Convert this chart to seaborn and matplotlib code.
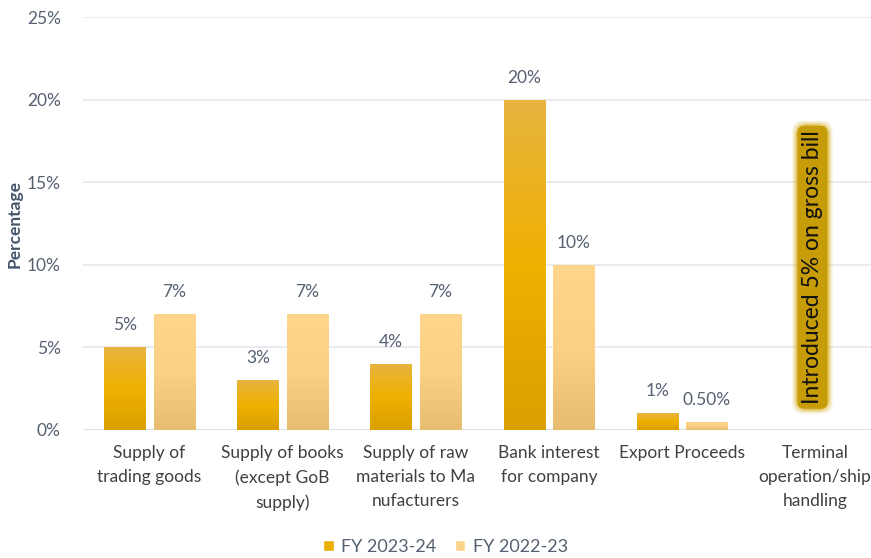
import numpy as np
import pandas as pd
import matplotlib
matplotlib.use("Agg")
import matplotlib.pyplot as plt
import seaborn as sns
from matplotlib.colors import LinearSegmentedColormap

categories = ["Supply of\ntrading goods", "Supply of books\n(except GoB\nsupply)",
              "Supply of raw\nmaterials to Ma\nnufacturers", "Bank interest\nfor company",
              "Export Proceeds", "Terminal\noperation/ship\nhandling"]
fy_2324 = [5, 3, 4, 20, 1, np.nan]
fy_2223 = [7, 7, 7, 10, 0.5, np.nan]
labels_2324 = ["5%", "3%", "4%", "20%", "1%", ""]
labels_2223 = ["7%", "7%", "7%", "10%", "0.50%", ""]
series = ["FY 2023-24", "FY 2022-23"]
yticks = [0, 5, 10, 15, 20, 25]
note = "Introduced 5% on gross bill"

sns.set_theme(style="white")
plt.rcParams['font.family'] = ['Lato', 'DejaVu Sans']

df = pd.DataFrame({
    "cat": categories * 2,
    "val": fy_2324 + fy_2223,
    "series": [series[0]] * len(categories) + [series[1]] * len(categories),
})

fig = plt.figure(figsize=(8.71, 5.58), dpi=100)
ax = fig.add_axes([83 / 871, 1 - 430 / 558, (871 - 83) / 871, 413 / 558])

pal = {series[0]: "#EBB000", series[1]: "#FED48A"}
sns.barplot(data=df, x="cat", y="val", hue="series", palette=pal, width=0.744, gap=0.17,
            ax=ax, legend=True, saturation=1)

ax.set_yticks(yticks)
ax.set_yticklabels([f"{t}%" for t in yticks])
ax.grid(axis="y", color="#E3E6EC", lw=1.1)
ax.set_axisbelow(True)
for s in ax.spines.values():
    s.set_visible(False)
ax.axhline(0, color="#D9DDE5", lw=1.2, zorder=1)
ax.tick_params(axis="y", length=0, pad=16, labelsize=12.5, labelcolor="#556070")
ax.tick_params(axis="x", length=0, pad=11, labelsize=12.5, labelcolor="#404040")
for t in ax.get_xticklabels():
    t.set_linespacing(1.62)
ax.set_xlabel("")
ax.set_ylabel("Percentage", fontsize=12.5, fontweight="bold", color="#44546A", labelpad=3)

# gradients
cmap1 = LinearSegmentedColormap.from_list("g1", ["#DBA000", "#EFB000", "#E8B440"])
cmap2 = LinearSegmentedColormap.from_list("g2", ["#E6BC6E", "#FCD185", "#FFD68C"])
grad = np.linspace(0, 1, 256).reshape(-1, 1)
for cont, cmap, labs in zip(ax.containers, [cmap1, cmap2], [labels_2324, labels_2223]):
    for p, lab in zip(cont.patches, labs):
        h = p.get_height()
        if not np.isfinite(h) or h <= 0:
            continue
        x0 = p.get_x(); w = p.get_width()
        im = ax.imshow(grad, extent=[x0, x0 + w, 0, h], origin="lower", cmap=cmap,
                       aspect="auto", zorder=p.get_zorder() + 0.1)
        im.set_clip_path(p)
        ax.text(x0 + w / 2, h + 0.85, lab, ha="center", va="bottom", fontsize=12.5, color="#556070")
ax.set_xlim(-0.5, 5.42)
ax.set_ylim(0, 25)

# note with soft glow
for pad, alpha in [(0.42, 0.18), (0.34, 0.3), (0.27, 0.5)]:
    ax.text(4.98, 9.85, note, rotation=90, ha="center", va="center", fontsize=16.5, color="none",
            bbox=dict(boxstyle=f"round,pad={pad},rounding_size=0.5", fc="#D8B020", ec="none", alpha=alpha))
ax.text(4.98, 9.85, note, rotation=90, ha="center", va="center", fontsize=16.5, color="#111111",
        bbox=dict(boxstyle="round,pad=0.2,rounding_size=0.3", fc="#C69C08", ec="none"))

# legend
leg = ax.legend(loc="center", bbox_to_anchor=(0.46, 1 - (547 - 17) / 413), ncol=2, frameon=False,
                fontsize=13, handlelength=0.6, handleheight=0.6, handletextpad=0.4,
                columnspacing=1.0)
for t in leg.get_texts():
    t.set_color("#556070")

fig.savefig("out.png", dpi=100)
